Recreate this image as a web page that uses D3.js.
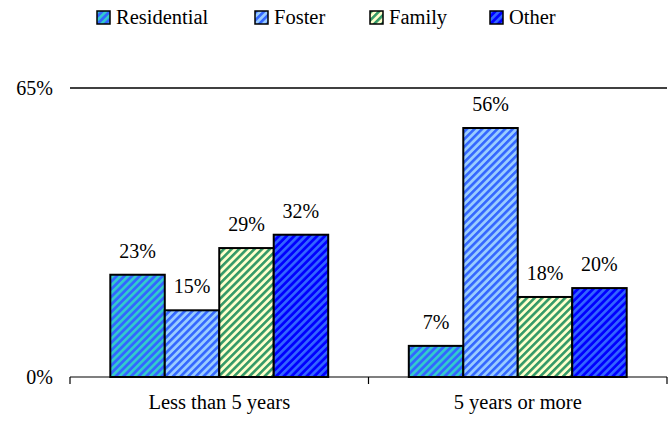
<!DOCTYPE html>
<html>
<head>
<meta charset="utf-8">
<script src="https://cdn.jsdelivr.net/npm/d3@7"></script>
<style>
  body { margin: 0; background: #fff; }
  svg text { font-family: "Liberation Serif", "Times New Roman", Times, serif !important; }
</style>
</head>
<body>
<svg id="chart" width="672" height="431" style="font-family: 'Liberation Serif', 'Times New Roman', serif"></svg>
<script>
// Data
const categories = ["Less than 5 years", "5 years or more"];
const series = ["Residential", "Foster", "Family", "Other"];
const values = {
  "Residential": [23, 7],
  "Foster": [15, 56],
  "Family": [29, 18],
  "Other": [32, 20]
};
const yTicks = [0, 65];

// Hatch colours per series: background + stripe
const fills = {
  "Residential": {bg: "#3366ff", stripe: "#33cccc"},
  "Foster": {bg: "#99ccff", stripe: "#3366ff"},
  "Family": {bg: "#ffffcc", stripe: "#339966"},
  "Other": {bg: "#0000ff", stripe: "#3366ff"}
};

const FONT = "Times New Roman";

const margin = {top: 88, right: 5, bottom: 54, left: 70},
    width = 672 - margin.left - margin.right,
    height = 431 - margin.top - margin.bottom;

const svg = d3.select("#chart");

// Hatch patterns
const defs = svg.append("defs");
series.forEach((s, i) => {
  const p = defs.append("pattern")
    .attr("id", "hatch" + i)
    .attr("patternUnits", "userSpaceOnUse")
    .attr("width", 5.4)
    .attr("height", 5.4)
    .attr("patternTransform", "rotate(45)");
  p.append("rect")
    .attr("width", 5.4).attr("height", 5.4)
    .attr("fill", fills[s].bg);
  p.append("rect")
    .attr("width", 2.6).attr("height", 5.4)
    .attr("fill", fills[s].stripe);
});

const g = svg.append("g")
    .attr("transform", `translate(${margin.left},${margin.top})`);

// Scales
const x0 = d3.scaleBand()
    .domain(categories)
    .range([0, width])
    .padding(0);

const x1 = d3.scaleBand()
    .domain(series)
    .range([0, x0.bandwidth()])
    .paddingInner(0)
    .paddingOuter(0.74);

const y = d3.scaleLinear()
    .domain([0, 65])
    .range([height, 0]);

// Top line at 65%
g.append("line")
    .attr("x1", 0).attr("x2", width)
    .attr("y1", y(65)).attr("y2", y(65))
    .attr("stroke", "#000")
    .attr("stroke-width", 1.5);

// Y labels
g.selectAll(".ylab")
  .data(yTicks)
  .enter()
  .append("text")
    .attr("x", -17)
    .attr("y", d => y(d))
    .attr("dy", "0.35em")
    .attr("text-anchor", "end")
    .attr("font-family", FONT)
    .attr("font-size", 20)
    .text(d => d + "%");

// Bars
const groups = g.selectAll(".grp")
  .data(categories)
  .enter()
  .append("g")
    .attr("transform", d => `translate(${x0(d)},0)`);

groups.selectAll("rect")
  .data((c, ci) => series.map((s, si) => ({s, si, v: values[s][ci]})))
  .enter()
  .append("rect")
    .attr("x", d => x1(d.s))
    .attr("y", d => y(d.v))
    .attr("width", x1.bandwidth())
    .attr("height", d => height - y(d.v))
    .attr("fill", d => `url(#hatch${d.si})`)
    .attr("stroke", "#000")
    .attr("stroke-width", 2);

// Value labels
groups.selectAll(".vlab")
  .data((c, ci) => series.map(s => ({s, v: values[s][ci]})))
  .enter()
  .append("text")
    .attr("x", d => x1(d.s) + x1.bandwidth() / 2)
    .attr("y", d => y(d.v) - 17)
    .attr("text-anchor", "middle")
    .attr("font-family", FONT)
    .attr("font-size", 20)
    .text(d => d.v + "%");

// X axis
const xAxis = g.append("g")
    .attr("transform", `translate(0,${height})`);
xAxis.append("line")
    .attr("x1", 0).attr("x2", width)
    .attr("stroke", "#000").attr("stroke-width", 1.2);
xAxis.selectAll(".tick")
  .data([0, width / 2, width])
  .enter()
  .append("line")
    .attr("x1", d => d).attr("x2", d => d)
    .attr("y1", 0).attr("y2", 7)
    .attr("stroke", "#000").attr("stroke-width", 1.2);
xAxis.selectAll(".clab")
  .data(categories)
  .enter()
  .append("text")
    .attr("x", d => x0(d) + x0.bandwidth() / 2)
    .attr("y", 32)
    .attr("text-anchor", "middle")
    .attr("font-family", FONT)
    .attr("font-size", 20.5)
    .text(d => d);

// Legend
const legendX = [97, 255, 370, 490];
const legend = svg.append("g");
series.forEach((s, i) => {
  const lg = legend.append("g").attr("transform", `translate(${legendX[i]},11)`);
  lg.append("rect")
    .attr("width", 13).attr("height", 13)
    .attr("fill", `url(#hatch${i})`)
    .attr("stroke", "#000").attr("stroke-width", 1.5);
  lg.append("text")
    .attr("x", 19).attr("y", 13)
    .attr("font-family", FONT)
    .attr("font-size", 20.5)
    .text(s);
});
</script>
</body>
</html>
